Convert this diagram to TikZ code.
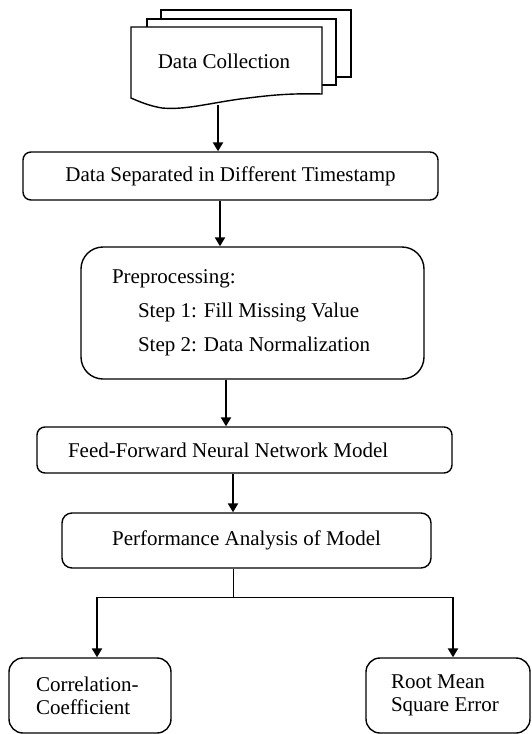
\documentclass[tikz,border=0pt]{standalone}
\usepackage{fontspec}
\setmainfont{Liberation Serif}
\usetikzlibrary{arrows.meta}
\begin{document}
\begin{tikzpicture}[x=1pt,y=-1pt,
  box/.style={draw,line width=1.4pt,rounded corners=8pt,inner sep=0pt},
  sheet/.style={draw,fill=white,line width=1.4pt},
  arr/.style={line width=2.5pt,-{Triangle[length=9pt,width=10pt]}},
  link/.style={line width=0.9pt},
  every node/.style={font=\fontsize{21}{23}\selectfont}]
\useasboundingbox (0,0) rectangle (531,734);
% stack of sheets
\draw[sheet] (161,10) rectangle (351,77);
\draw[sheet] (147,19) rectangle (336,85);
\draw[sheet] (131,27) -- (322,27) -- (322,94) .. controls (285,93) and (265,96) .. (240,99)
  .. controls (205,104) and (185,110) .. (162,108) .. controls (150,106) and (140,102) .. (131,98) -- cycle;
\node (collect) at (224,61) {Data Collection};
\coordinate (collectout) at (218,105);
% boxes
\node[box,minimum width=415pt,minimum height=48pt] (sep) at (230.5,176) {Data Separated in Different Timestamp};
\node[box,rounded corners=22pt,minimum height=132pt,text width=281pt,inner xsep=31pt,align=flush left,
  font=\fontsize{21}{34}\selectfont] (prep) at (252.5,313)
  {Preprocessing:\\\hspace*{26pt}Step 1: Fill Missing Value\\\hspace*{26pt}Step 2: Data Normalization};
\node[box,minimum height=46pt,text width=353pt,inner xsep=31pt,align=flush left] (ffnn) at (244.5,450) {Feed-Forward Neural Network Model};
\node[box,rounded corners=10pt,minimum width=369pt,minimum height=55pt] (perf) at (246.5,540.5) {Performance Analysis of Model};
\node[box,rounded corners=14pt,minimum height=75pt,text width=108pt,inner xsep=27pt,align=flush left] (corr) at (90,695.5) {Correlation-\\Coefficient};
\node[box,rounded corners=14pt,minimum height=75pt,text width=114pt,inner xsep=25pt,align=flush left] (rmse) at (448,695.5) {Root Mean\\Square Error};
% connectors
\draw[arr] (collectout) -- ([xshift=-12.5pt]sep.north);
\draw[arr] ([xshift=-10.5pt]sep.south) -- ([xshift=-32.5pt]prep.north);
\draw[arr] ([xshift=-26.5pt]prep.south) -- ([xshift=-18.5pt]ffnn.north);
\draw[arr] ([xshift=-11.5pt]ffnn.south) -- ([xshift=-13.5pt]perf.north);
\coordinate (split) at (233,597);
\coordinate (corrin) at ([xshift=7pt]corr.north);
\coordinate (rmsein) at ([xshift=5pt]rmse.north);
\draw[link] ([xshift=-13.5pt]perf.south) -- (split);
\draw[link] (corrin |- split) -- (rmsein |- split);
\draw[arr] (corrin |- split) -- (corrin);
\draw[arr] (rmsein |- split) -- (rmsein);
\end{tikzpicture}
\end{document}
